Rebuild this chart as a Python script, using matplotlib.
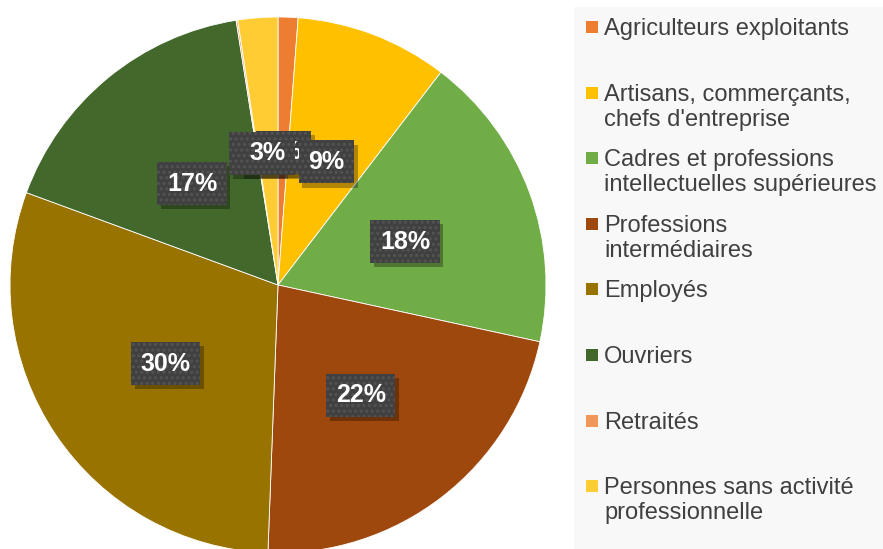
import matplotlib
matplotlib.use("Agg")
import matplotlib.pyplot as plt
import numpy as np
from matplotlib.patches import Rectangle

plt.rcParams['font.family'] = ['Liberation Sans', 'DejaVu Sans']
plt.rcParams['hatch.linewidth'] = 1.5

categories = ["Agriculteurs exploitants", "Artisans, commerçants,\nchefs d'entreprise",
              "Cadres et professions\nintellectuelles supérieures", "Professions\nintermédiaires",
              "Employés", "Ouvriers", "Retraités", "Personnes sans activité\nprofessionnelle"]
values = [1.2, 9.2, 18.0, 22.2, 30.0, 16.9, 0.1, 2.4]
labels = ["1%", "9%", "18%", "22%", "30%", "17%", "0%", "3%"]
colors = ["#ED7D31", "#FFC000", "#70AD47", "#9E480E", "#997300", "#43682B", "#F1975A", "#FFCD33"]

W, H = 883, 549
fig = plt.figure(figsize=(W / 100, H / 100), dpi=100)
fig.patch.set_facecolor("white")

cx, cy, R = 278, 285, 268
ax = fig.add_axes([(cx - R) / W, (H - cy - R) / H, 2 * R / W, 2 * R / H])

wedges, _ = ax.pie(values, colors=colors, startangle=90, counterclock=False, radius=1,
                   wedgeprops=dict(linewidth=0.6, edgecolor="white"))
ax.set_xlim(-1, 1)
ax.set_ylim(-1, 1)
ax.set_aspect("equal")
ax.axis("off")

# data labels
total = sum(values)
cum = 0
pos = []
for v in values:
    mid = (cum + v / 2) / total * 360
    cum += v
    ang = np.deg2rad(90 - mid)
    pos.append((0.505 * np.cos(ang), 0.505 * np.sin(ang) - 0.012))
# overlapping small labels are shifted (as in the reference)
px = 1 / R
pos[6] = (pos[7][0] - 11 * px, pos[7][1])
pos[0] = (pos[7][0] + 16 * px, pos[7][1] + 1 * px)
order = [0, 6, 7, 1, 2, 3, 4, 5]
for i in order:
    x, y = pos[i]
    ax.text(x + 0.014, y - 0.016, labels[i], ha="center", va="center", fontsize=18,
            fontweight="bold", color=(0, 0, 0, 0),
            bbox=dict(boxstyle="square,pad=0.38", facecolor=(0, 0, 0, 0.3), edgecolor="none"),
            zorder=5)
    ax.text(x, y, labels[i], ha="center", va="center", fontsize=18, fontweight="bold",
            color="white",
            bbox=dict(boxstyle="square,pad=0.38", facecolor="#404040", edgecolor="#535353",
                      hatch="...", linewidth=0),
            zorder=6)

# legend panel
lg = fig.add_axes([574 / W, 0, (W - 574) / W, (H - 7) / H])
lg.set_xlim(574, W)
lg.set_ylim(H, 7)
lg.axis("off")
lg.add_patch(Rectangle((574, 7), W - 574, H - 7, facecolor="#f8f8f8", edgecolor="none"))
y0, step = 27, 65.6
for k, (cat, col) in enumerate(zip(categories, colors)):
    yc = y0 + k * step
    lg.add_patch(Rectangle((586, yc - 6), 12, 12, facecolor=col, edgecolor="none"))
    for j, line in enumerate(cat.split("\n")):
        lg.text(604, yc + 8 + 25 * j, line, ha="left", va="baseline", fontsize=17,
                color="#404040")

fig.savefig("out.png", dpi=100)
